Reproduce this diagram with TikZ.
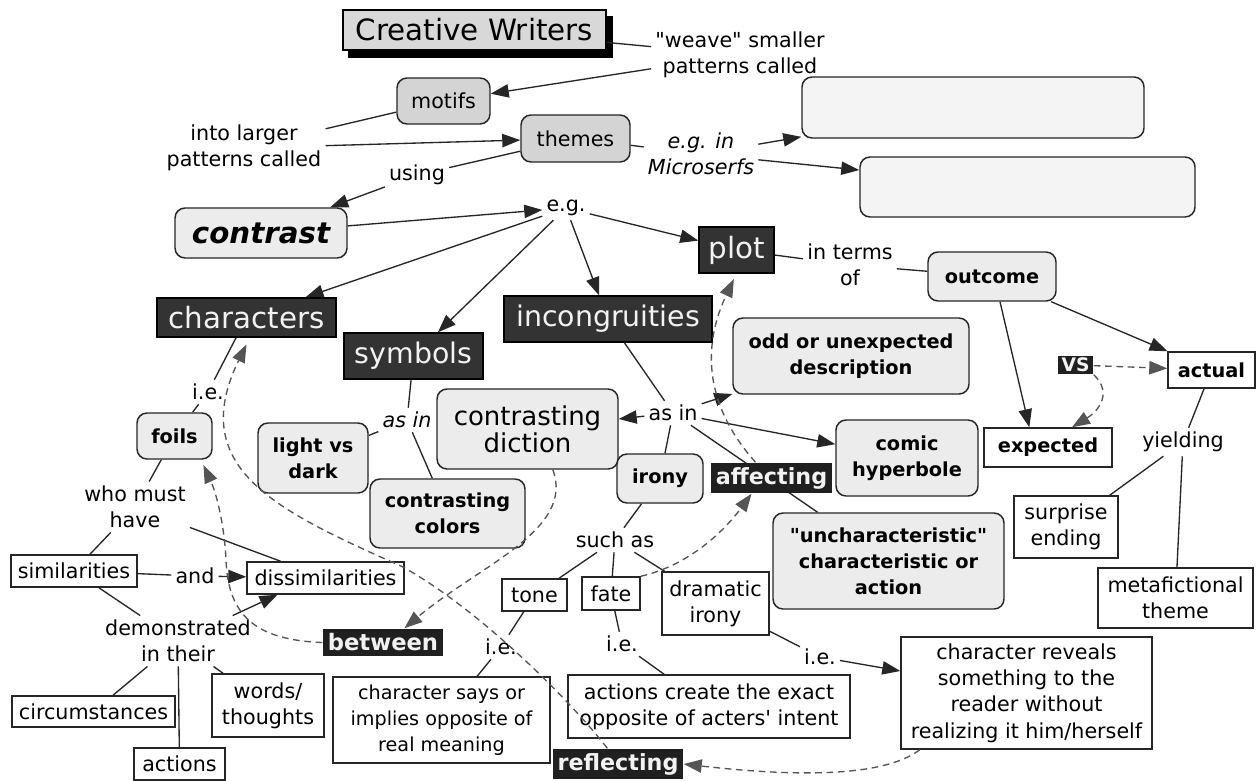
\documentclass[tikz,border=0pt]{standalone}
\usepackage{fontspec}
\setmainfont{DejaVu Sans}[Ligatures=TeXOff]
\usetikzlibrary{arrows.meta,backgrounds}
\definecolor{dk}{HTML}{333333}
\definecolor{hlc}{HTML}{202020}
\definecolor{lg}{HTML}{ECECEC}
\definecolor{mg}{HTML}{D4D4D4}
\definecolor{vl}{HTML}{F4F4F4}
\definecolor{dsh}{HTML}{555555}
\newcommand\mfN{\fontsize{15.5}{19.8}\selectfont}
\newcommand\mfB{\fontsize{14.5}{19.5}\selectfont\bfseries}
\newcommand\mfL{\fontsize{22}{26}\selectfont}
\newcommand\mfD{\fontsize{16.7}{20}\selectfont\bfseries}
\newcommand\mfI{\fontsize{15.5}{19.8}\selectfont\itshape}
\begin{document}
\begin{tikzpicture}[x=0.75pt,y=-0.75pt,
  wh/.style 2 args={minimum width=#1*0.75pt,minimum height=#2*0.75pt},
  base/.style={inner sep=0pt,align=center,line width=1.1pt},
  rbox/.style={base,draw=black!85,rounded corners=7.5pt,fill=lg,font=\mfB},
  gbox/.style={base,draw=black!85,rounded corners=7.5pt,fill=mg,font=\mfN},
  sbox/.style={base,draw=black!85,fill=white,font=\mfN},
  bbox/.style={base,draw=black!85,fill=white,font=\mfB},
  dbox/.style={base,draw=black,fill=dk,text=white!95!black,font=\mfL},
  hl/.style={base,fill=hlc,text=white!95!black,font=\mfD},
  lbl/.style={inner sep=3pt,align=center,font=\mfN},
  ilbl/.style={inner sep=3pt,align=center,font=\mfI},
  ln/.style={line width=1pt,draw=black!85},
  ar/.style={ln,-{Triangle[length=13.5pt,width=10pt]}},
  da/.style={line width=1pt,draw=dsh,dash pattern=on 5pt off 3.5pt,-{Triangle[length=13.5pt,width=10pt]}},
]
\useasboundingbox (0,0) rectangle (1256,781);

% nodes
\node[base,draw=black,fill=mg!90!white,wh={263}{40},font=\mfL] (cw) at (474.5,30) {Creative Writers};
\node[lbl] (weave) at (740,55) {"weave" smaller\\patterns called};
\node[gbox,wh={93}{46}] (motifs) at (443.5,101) {motifs};
\node[lbl] (into) at (244,148) {into larger\\patterns called};
\node[gbox,wh={109}{47}] (themes) at (575.5,138.5) {themes};
\node[lbl] (using) at (417,175) {using};
\node[ilbl] (egms) at (701,154) {e.g. in\\Microserfs};
\node[rbox,fill=vl,wh={342}{61}] (box1) at (973,107.5) {};
\node[rbox,fill=vl,wh={335}{60}] (box2) at (1027.5,187) {};
\node[rbox,wh={172}{50},font=\fontsize{22}{26}\selectfont\bfseries\itshape] (contrast) at (261,233) {contrast};
\node[lbl] (eg) at (566,208) {e.g.};
\node[dbox,wh={75}{46}] (plot) at (736.5,250) {plot};
\node[lbl] (interms) at (850,265) {in terms\\of};
\node[rbox,wh={128}{49}] (outcome) at (992,276.5) {outcome};
\node[dbox,wh={179}{39}] (characters) at (246.5,317.5) {characters};
\node[dbox,wh={139}{46},font=\fontsize{21.3}{26}\selectfont] (symbols) at (413.5,356) {symbols};
\node[dbox,wh={208}{46},font=\fontsize{21.3}{26}\selectfont] (incong) at (608,319) {incongruities};
\node[rbox,wh={236}{76}] (odd) at (851,356) {odd or unexpected\\description};
\node[bbox,wh={87}{36}] (actual) at (1211.5,370) {actual};
\node[hl,wh={35}{18},font=\fontsize{14}{16}\selectfont\bfseries] (vs) at (1075.5,365) {VS};
\node[bbox,wh={128}{39}] (expected) at (1048,447.5) {expected};
\node[lbl] (yielding) at (1183,442) {yielding};
\node[sbox,wh={104}{62}] (surprise) at (1066,527) {surprise\\ending};
\node[sbox,wh={155}{60}] (meta) at (1175.5,598) {metafictional\\theme};
\node[rbox,wh={181}{80},font=\fontsize{19.5}{20.5}\selectfont] (diction) at (527.5,429) {contrasting\\diction};
\node[lbl] (asin1) at (673,413) {as in};
\node[rbox,wh={86}{49}] (irony) at (660,478.5) {irony};
\node[hl,wh={121}{30}] (affecting) at (771.5,478) {affecting};
\node[rbox,wh={142}{76}] (comic) at (907,458) {comic\\hyperbole};
\node[rbox,wh={231}{96}] (unchar) at (888.5,561) {"uncharacteristic"\\characteristic or\\action};
\node[ilbl] (asin2) at (407,420) {as in};
\node[rbox,wh={110}{70}] (light) at (313,458) {light vs\\dark};
\node[rbox,wh={155}{69}] (colors) at (447.5,513.5) {contrasting\\colors};
\node[rbox,wh={75}{46}] (foils) at (174.5,436) {foils};
\node[lbl] (ie1) at (208,392) {i.e.};
\node[lbl] (whomust) at (135,507) {who must\\have};
\node[sbox,wh={126}{32}] (simil) at (74,571) {similarities};
\node[lbl] (and) at (195,576) {and};
\node[sbox,wh={157}{32}] (dissim) at (325.5,578) {dissimilarities};
\node[lbl] (demo) at (178,641) {demonstrated\\in their};
\node[sbox,wh={163}{31}] (circ) at (93.5,711.5) {circumstances};
\node[sbox,wh={91}{32}] (actions) at (179.5,764) {actions};
\node[sbox,wh={112}{63}] (words) at (268,705.5) {words/\\thoughts};
\node[hl,wh={120}{27},font=\fontsize{17}{20}\selectfont\bfseries] (between) at (383,642.5) {between};
\node[lbl] (suchas) at (615,540) {such as};
\node[sbox,wh={65}{32}] (tone) at (534.5,595) {tone};
\node[sbox,wh={58}{33}] (fate) at (611,593.5) {fate};
\node[sbox,wh={107}{63}] (dramatic) at (715.5,603.5) {dramatic\\irony};
\node[lbl] (ie2) at (501,647) {i.e.};
\node[sbox,wh={217}{86},font=\fontsize{14.4}{19.5}\selectfont] (says) at (441.5,720) {character says or\\implies opposite of\\real meaning};
\node[lbl] (ie3) at (622,644) {i.e.};
\node[sbox,wh={282}{63}] (acts) at (709,706.5) {actions create the exact\\opposite of acters' intent};
\node[lbl] (ie4) at (820,657) {i.e.};
\node[sbox,wh={251}{112}] (reveals) at (1026.5,693) {character reveals\\something to the\\reader without\\realizing it him/herself};
\node[hl,wh={130}{30}] (reflecting) at (618,764) {reflecting};

% solid connectors (under the nodes)
\begin{scope}[on background layer]
\fill[white] (0,0) rectangle (1256,781);
\fill[black] ([shift={(6,7)}]cw.south west) rectangle ([shift={(6,7)}]cw.north east);
\draw[ln] (cw) -- (weave);
\draw[ar] (weave) -- (motifs);
\draw[ln] (into) -- (motifs);
\draw[ar] (into) -- (themes);
\draw[ln] (themes) -- (using);
\draw[ar] (using) -- (contrast);
\draw[ln] (themes) -- (egms);
\draw[ar] (egms) -- (box1);
\draw[ar] (egms) -- (box2);
\draw[ar] (contrast) -- (eg);
\draw[ar] (eg) -- (characters);
\draw[ar] (eg) -- (symbols);
\draw[ar] (eg) -- (incong);
\draw[ar] (eg) -- (plot);
\draw[ln] (plot) -- (interms);
\draw[ln] (interms) -- (outcome);
\draw[ar] ([xshift=6pt]outcome.south) -- ([xshift=-14pt]expected.north);
\draw[ar] (outcome) -- (actual);
\draw[ln] (actual) -- (yielding);
\draw[ln] (yielding) -- (surprise);
\draw[ln] (yielding) -- (meta);
\draw[ln] (characters) -- (ie1);
\draw[ln] (ie1) -- (foils);
\draw[ln] (foils) -- (whomust);
\draw[ln] (whomust) -- (simil);
\draw[ln] (whomust) -- (dissim);
\draw[ln] (simil) -- (and);
\draw[ar] (and) -- (dissim);
\draw[ln] (simil) -- (demo);
\draw[ar] (demo) -- ([xshift=-36pt]dissim.south);
\draw[ln] (demo) -- (circ);
\draw[ln] (demo) -- (actions);
\draw[ln] (demo) -- (words);
\draw[ln] (symbols) -- (asin2);
\draw[ln] (asin2) -- (light);
\draw[ln] (asin2) -- (colors);
\draw[ln] (incong) -- (asin1);
\draw[ar] (asin1) -- (diction);
\draw[ar] (asin1) -- (odd);
\draw[ar] (asin1) -- (comic);
\draw[ln] (asin1) -- (irony);
\draw[ln] (asin1) -- (unchar);
\draw[ln] (irony) -- (suchas);
\draw[ln] (suchas) -- (tone);
\draw[ln] (suchas) -- (fate);
\draw[ln] (suchas) -- (dramatic);
\draw[ln] (tone) -- (ie2);
\draw[ln] (ie2) -- (says);
\draw[ln] (fate) -- (ie3);
\draw[ln] (ie3) -- (acts);
\draw[ln] (dramatic) -- (ie4);
\draw[ar] (ie4) -- (reveals);
\end{scope}

% dashed connectors (on top)
\draw[da] (vs) -- (actual);
\draw[da] (vs.south east) .. controls (1112,392) and (1100,410) .. ([xshift=18pt]expected.north);
\draw[da] (between.west) .. controls (255,640) and (228,615) .. (226,560) .. controls (224,520) and (215,490) .. ([xshift=-7pt,yshift=-4pt]foils.south east);
\draw[da] ([xshift=19pt]diction.south) .. controls (575,530) and (480,565) .. ([xshift=16pt]between.north);
\draw[da] (fate.north east) .. controls (690,565) and (725,530) .. ([xshift=-15pt]affecting.south);
\draw[da] ([xshift=-12pt]affecting.north) .. controls (700,400) and (705,340) .. ([xshift=-2pt,yshift=-4pt]plot.south);
\draw[da] ([xshift=-80pt]reveals.south) .. controls (880,780) and (780,775) .. (reflecting.east);
\draw[da] ([xshift=-8pt]reflecting.north) .. controls (570,700) and (480,610) .. (403,567) .. controls (280,512) and (185,470) .. ([yshift=-5pt]characters.south);
\end{tikzpicture}
\end{document}
